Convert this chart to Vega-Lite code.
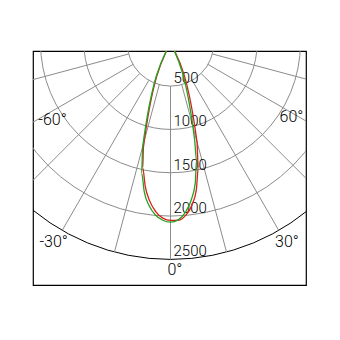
{
  "$schema": "https://vega.github.io/schema/vega-lite/v6.json",
  "width": 273,
  "height": 234,
  "autosize": "none",
  "padding": {"left": 33, "top": 51, "right": 34, "bottom": 55},
  "background": "white",
  "config": {"view": {"stroke": "black", "strokeWidth": 1.2}},
  "layer": [
    {
      "data": {"values": [{"r": 500}, {"r": 1000}, {"r": 1500}, {"r": 2000}, {"r": 2500}]},
      "mark": {"type": "arc", "theta": 0, "theta2": 6.2832, "fill": "white", "fillOpacity": 0, "strokeWidth": 1, "clip": true},
      "encoding": {
        "x": {"datum": 0, "type": "quantitative", "scale": {"domain": [-1587, 1564], "nice": false, "zero": false}, "axis": null},
        "y": {"datum": 0, "type": "quantitative", "scale": {"domain": [95, 2795], "nice": false, "zero": false, "reverse": true}, "axis": null},
        "radius": {"field": "r", "type": "quantitative", "stack": null, "scale": {"type": "linear", "domain": [0, 2500], "range": [0, 216.65], "zero": true}, "legend": null},
        "stroke": {"condition": {"test": "datum.r === 2500", "value": "black"}, "value": "#8c8c8c"}
      }
    },
    {
      "data": {"values": [{"a": -75}, {"a": -60}, {"a": -45}, {"a": -30}, {"a": -15}, {"a": 0}, {"a": 15}, {"a": 30}, {"a": 45}, {"a": 60}, {"a": 75}]},
      "transform": [
        {"calculate": "datum.a * PI / 180", "as": "rad"},
        {"calculate": "500 * sin(datum.rad)", "as": "x"},
        {"calculate": "500 * cos(datum.rad)", "as": "y"},
        {"calculate": "2500 * sin(datum.rad)", "as": "x2"},
        {"calculate": "2500 * cos(datum.rad)", "as": "y2"}
      ],
      "mark": {"type": "rule", "stroke": "#8c8c8c", "strokeWidth": 1, "clip": true},
      "encoding": {
        "x": {"field": "x", "type": "quantitative", "scale": {"domain": [-1587, 1564], "nice": false, "zero": false}, "axis": null},
        "y": {"field": "y", "type": "quantitative", "scale": {"domain": [95, 2795], "nice": false, "zero": false, "reverse": true}, "axis": null},
        "x2": {"field": "x2"},
        "y2": {"field": "y2"}
      }
    },
    {
      "data": {"values": [{"v": 500}, {"v": 1000}, {"v": 1500}, {"v": 2000}, {"v": 2500}]},
      "mark": {"type": "text", "align": "left", "baseline": "alphabetic", "dx": 3, "dy": -3, "font": "Roboto", "fontWeight": 300, "fontSize": 15, "fill": "black", "clip": true},
      "encoding": {
        "x": {"datum": 0, "type": "quantitative", "scale": {"domain": [-1587, 1564], "nice": false, "zero": false}, "axis": null},
        "y": {"field": "v", "type": "quantitative", "scale": {"domain": [95, 2795], "nice": false, "zero": false, "reverse": true}, "axis": null},
        "text": {"field": "v", "type": "quantitative", "format": "d"}
      }
    },
    {
      "data": {"values": [
        {"label": "0°", "a": 1.1, "r": 2622},
        {"label": "30°", "a": 30.3, "r": 2663},
        {"label": "-30°", "a": -30.4, "r": 2666},
        {"label": "60°", "a": 58.5, "r": 1638},
        {"label": "-60°", "a": -56.8, "r": 1627}
      ]},
      "transform": [
        {"calculate": "datum.a * PI / 180", "as": "rad"},
        {"calculate": "datum.r * sin(datum.rad)", "as": "x"},
        {"calculate": "datum.r * cos(datum.rad)", "as": "y"}
      ],
      "mark": {"type": "text", "align": "center", "baseline": "middle", "font": "Roboto", "fontWeight": 300, "fontSize": 16, "fill": "black"},
      "encoding": {
        "x": {"field": "x", "type": "quantitative", "scale": {"domain": [-1587, 1564], "nice": false, "zero": false}, "axis": null},
        "y": {"field": "y", "type": "quantitative", "scale": {"domain": [95, 2795], "nice": false, "zero": false, "reverse": true}, "axis": null},
        "text": {"field": "label"}
      }
    },
    {
      "data": {"values": [
        {"s": "red", "a": -17.5, "i": 0},
        {"s": "red", "a": -14.5, "i": 1250},
        {"s": "red", "a": -12.5, "i": 1480},
        {"s": "red", "a": -10, "i": 1680},
        {"s": "red", "a": -7.5, "i": 1840},
        {"s": "red", "a": -5, "i": 1955},
        {"s": "red", "a": -2.5, "i": 2025},
        {"s": "red", "a": 0, "i": 2050},
        {"s": "red", "a": 2.5, "i": 2050},
        {"s": "red", "a": 5, "i": 2000},
        {"s": "red", "a": 7.5, "i": 1890},
        {"s": "red", "a": 10, "i": 1720},
        {"s": "red", "a": 12.5, "i": 1480},
        {"s": "red", "a": 15, "i": 1180},
        {"s": "red", "a": 17.5, "i": 0},
        {"s": "green", "a": -17.5, "i": 0},
        {"s": "green", "a": -15, "i": 1240},
        {"s": "green", "a": -12.5, "i": 1540},
        {"s": "green", "a": -10, "i": 1745},
        {"s": "green", "a": -7.5, "i": 1895},
        {"s": "green", "a": -5, "i": 1995},
        {"s": "green", "a": -2.5, "i": 2050},
        {"s": "green", "a": 0, "i": 2070},
        {"s": "green", "a": 2.5, "i": 2045},
        {"s": "green", "a": 5, "i": 1965},
        {"s": "green", "a": 7.5, "i": 1830},
        {"s": "green", "a": 10, "i": 1645},
        {"s": "green", "a": 12.5, "i": 1390},
        {"s": "green", "a": 14, "i": 1150},
        {"s": "green", "a": 17.5, "i": 0}
      ]},
      "transform": [
        {"calculate": "datum.a * PI / 180", "as": "rad"},
        {"calculate": "datum.i * sin(datum.rad)", "as": "x"},
        {"calculate": "datum.i * cos(datum.rad)", "as": "y"}
      ],
      "mark": {"type": "line", "strokeWidth": 1.3, "clip": true, "interpolate": "monotone"},
      "encoding": {
        "x": {"field": "x", "type": "quantitative", "scale": {"domain": [-1587, 1564], "nice": false, "zero": false}, "axis": null},
        "y": {"field": "y", "type": "quantitative", "scale": {"domain": [95, 2795], "nice": false, "zero": false, "reverse": true}, "axis": null},
        "color": {"field": "s", "type": "nominal", "scale": {"domain": ["red", "green"], "range": ["#dc1e1e", "#22a322"]}, "legend": null},
        "order": {"field": "a", "type": "quantitative"}
      }
    }
  ]
}
